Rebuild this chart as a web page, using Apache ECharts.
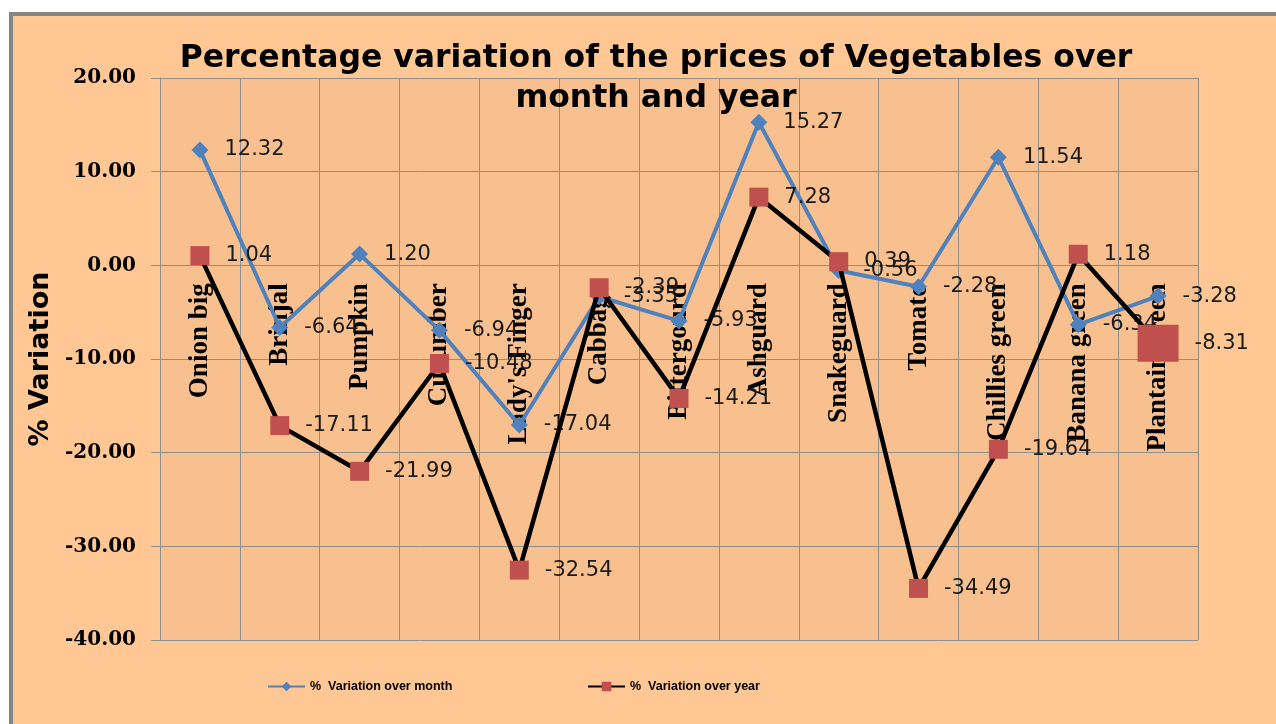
<!DOCTYPE html>
<html>
<head>
<meta charset="utf-8">
<script src="https://cdn.jsdelivr.net/npm/echarts@6/dist/echarts.min.js"></script>
<style>
  html, body { margin: 0; padding: 0; background: #fff; }
  #chartCont { width: 1276px; height: 724px; }
</style>
</head>
<body>
<div id="chartCont"></div>
<script>
var vegetables = ['Onion big', 'Brinjal', 'Pumpkin', 'Cucumber', "Lady's Finger", 'Cabbage', 'Bittergourd',
    'Ashguard', 'Snakeguard', 'Tomato', 'Chillies green', 'Banana green', 'Plantain green'];
var overMonth = [12.32, -6.64, 1.20, -6.94, -17.04, -3.35, -5.93, 15.27, -0.56, -2.28, 11.54, -6.34, -3.28];
var overYear = [1.04, -17.11, -21.99, -10.48, -32.54, -2.39, -14.21, 7.28, 0.39, -34.49, -19.64, 1.18, -8.31];
var yTicks = [-40, -30, -20, -10, 0, 10, 20];

window.onload = function() {
    setLine();
};

function setLine() {
    var ec = echarts.init(document.getElementById('chartCont'));

    // the last point of the yearly series is drawn with a bigger marker
    var yearData = overYear.map(function(v, i) {
        if (i === overYear.length - 1) {
            return { value: v, symbolSize: [41, 37] };
        }
        return v;
    });

    var labelStyle = {
        show: true,
        position: 'right',
        distance: 16,
        color: '#1a1a1a',
        fontSize: 21,
        fontFamily: 'DejaVu Sans',
        formatter: function(p) {
            var v = typeof p.value === 'object' ? p.value.value : p.value;
            return v.toFixed(2);
        }
    };

    var legendText = {
        fontFamily: 'Liberation Sans',
        fontWeight: 'bold',
        fontSize: 12.5,
        color: '#000'
    };

    ec.setOption({
        backgroundColor: '#ffffff',
        graphic: [{
            type: 'rect',
            z: -10,
            shape: { x: 11, y: 14, width: 1300, height: 800 },
            style: { fill: '#FFC793', stroke: '#858585', lineWidth: 4 }
        }],
        title: {
            text: 'Percentage variation of the prices of Vegetables over\nmonth and year',
            left: 651,
            textAlign: 'center',
            top: 34,
            textStyle: {
                fontFamily: 'DejaVu Sans',
                fontWeight: 'bold',
                fontSize: 31.5,
                lineHeight: 40,
                color: '#000'
            }
        },
        legend: [{
            top: 675,
            left: 262,
            itemWidth: 37,
            itemHeight: 12,
            itemGap: 4,
            textStyle: legendText,
            data: ['%  Variation over month']
        }, {
            top: 675,
            left: 582,
            itemWidth: 37,
            itemHeight: 12,
            textStyle: legendText,
            data: ['%  Variation over year']
        }],
        grid: {
            left: 160,
            right: 78,
            top: 78,
            bottom: 84,
            outerBoundsMode: 'none',
            containLabel: false,
            show: true,
            backgroundColor: '#F9C08F',
            borderWidth: 0
        },
        xAxis: {
            type: 'category',
            data: vegetables,
            boundaryGap: true,
            axisLine: { show: true, onZero: true, lineStyle: { color: '#8E8E8E', width: 1 } },
            axisTick: { show: false },
            splitLine: {
                show: true,
                lineStyle: { color: '#8E8E8E', width: 1 }
            },
            axisLabel: {
                rotate: 90,
                margin: 18,
                interval: 0,
                color: '#000',
                fontFamily: 'Liberation Serif',
                fontWeight: 'bold',
                fontSize: 27
            }
        },
        yAxis: {
            type: 'value',
            min: yTicks[0],
            max: yTicks[yTicks.length - 1],
            interval: 10,
            name: '% Variation',
            nameLocation: 'middle',
            nameGap: 104,
            nameTextStyle: {
                fontFamily: 'DejaVu Sans',
                fontWeight: 'bold',
                fontSize: 27,
                color: '#000'
            },
            axisLine: { show: true, lineStyle: { color: '#8E8E8E', width: 1 } },
            axisTick: { show: true, length: 9, lineStyle: { color: '#8E8E8E' } },
            splitLine: { show: true, lineStyle: { color: '#8E8E8E', width: 1 } },
            axisLabel: {
                margin: 24,
                color: '#000',
                fontFamily: 'DejaVu Serif',
                fontWeight: 'bold',
                fontSize: 20,
                formatter: function(v) { return v.toFixed(2); }
            }
        },
        series: [{
            name: '%  Variation over month',
            type: 'line',
            data: overMonth,
            symbol: 'diamond',
            symbolSize: 17,
            showAllSymbol: true,
            itemStyle: { color: '#4F81BD' },
            lineStyle: { color: '#4F81BD', width: 4 },
            label: labelStyle,
            z: 2
        }, {
            name: '%  Variation over year',
            type: 'line',
            data: yearData,
            symbol: 'rect',
            symbolSize: 19,
            showAllSymbol: true,
            itemStyle: { color: '#C0504D' },
            lineStyle: { color: '#000000', width: 4.5 },
            label: labelStyle,
            z: 3
        }]
    });

    // category labels sit just under the zero line, as in the spreadsheet chart
    var zeroY = ec.convertToPixel({ yAxisIndex: 0 }, 0);
    var bottomY = ec.convertToPixel({ yAxisIndex: 0 }, yTicks[0]);
    ec.setOption({
        xAxis: { offset: zeroY - bottomY }
    });
}
</script>
</body>
</html>
